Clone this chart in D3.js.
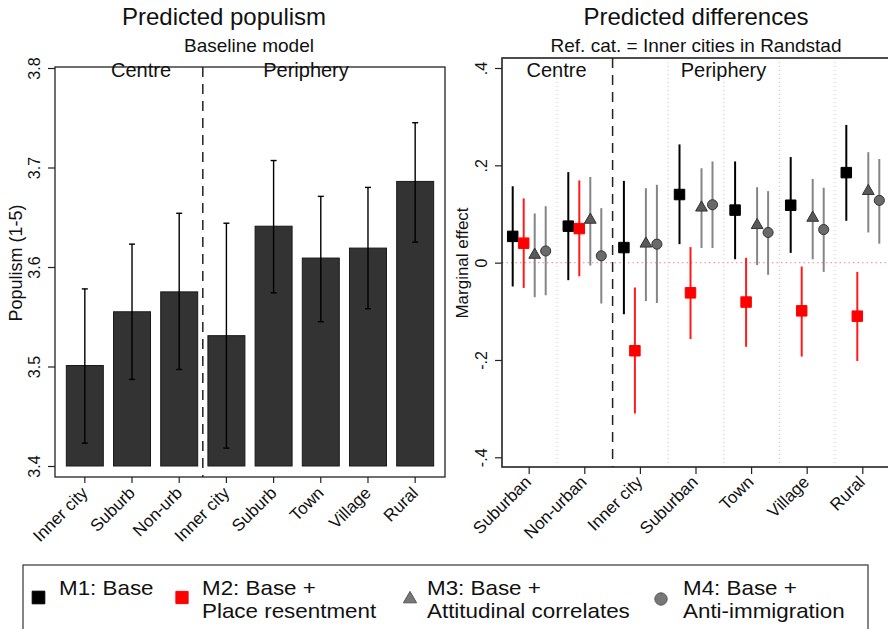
<!DOCTYPE html>
<html>
<head>
  <meta charset="utf-8">
  <script src="https://cdnjs.cloudflare.com/ajax/libs/d3/7.8.5/d3.min.js"></script>
  <title>populism</title>
  <style>
    body { margin: 0; background: #fff; }
    text { font-family: "Liberation Sans", Arial, sans-serif; fill: #111; }
  </style>
</head>
<body>
<script>
// left panel: predicted populism, baseline model
var leftCats = ["Inner city", "Suburb", "Non-urb", "Inner city", "Suburb", "Town", "Village", "Rural"];
var popMean = [3.501, 3.555, 3.575, 3.531, 3.641, 3.609, 3.619, 3.686];
var popLo   = [3.423, 3.487, 3.497, 3.418, 3.574, 3.545, 3.558, 3.625];
var popHi   = [3.578, 3.623, 3.654, 3.644, 3.707, 3.671, 3.680, 3.745];
var leftTicks = [3.4, 3.5, 3.6, 3.7, 3.8];
var leftTickLabels = ["3.4", "3.5", "3.6", "3.7", "3.8"];

// right panel: marginal effects vs inner cities in Randstad
var diffCats = ["Suburban", "Non-urban", "Inner city", "Suburban", "Town", "Village", "Rural"];
var m1Est = [0.054, 0.075, 0.031, 0.140, 0.108, 0.118, 0.185];
var m1Lo  = [-0.049, -0.036, -0.106, 0.038, 0.007, 0.020, 0.086];
var m1Hi  = [0.157, 0.186, 0.168, 0.243, 0.208, 0.217, 0.283];
var m2Est = [0.040, 0.070, -0.181, -0.062, -0.081, -0.099, -0.110];
var m2Lo  = [-0.052, -0.028, -0.310, -0.157, -0.173, -0.193, -0.202];
var m2Hi  = [0.132, 0.169, -0.051, 0.032, 0.010, -0.008, -0.019];
var m3Est = [0.016, 0.088, 0.039, 0.113, 0.077, 0.092, 0.147];
var m3Lo  = [-0.071, -0.006, -0.079, 0.030, -0.005, 0.007, 0.062];
var m3Hi  = [0.101, 0.176, 0.153, 0.194, 0.155, 0.172, 0.227];
var m4Est = [0.024, 0.014, 0.038, 0.119, 0.062, 0.068, 0.128];
var m4Lo  = [-0.067, -0.084, -0.083, 0.030, -0.025, -0.019, 0.039];
var m4Hi  = [0.116, 0.112, 0.160, 0.208, 0.147, 0.154, 0.213];
var rightTicks = [-0.4, -0.2, 0, 0.2, 0.4];
var rightTickLabels = ["-.4", "-.2", "0", ".2", ".4"];

var groupLabels = ["Centre", "Periphery"];
var legendLine1 = ["M1: Base", "M2: Base +", "M3: Base +", "M4: Base +"];
var legendLine2 = ["", "Place resentment", "Attitudinal correlates", "Anti-immigration"];

var w = 888, h = 629;
var svg = d3.select("body").append("svg").attr("width", w).attr("height", h);

// ---------- left panel ----------
var L = {x0: 55, x1: 445, y0: 67, y1: 477};
var xL = d3.scaleBand().domain(d3.range(leftCats.length)).range([L.x0, L.x1])
  .paddingInner(0.216).paddingOuter(0.24);
var yL = d3.scaleLinear().domain([3.4, 3.8]).range([466, 68]);

svg.append("text").attr("x", 224).attr("y", 25).attr("text-anchor", "middle")
  .attr("font-size", 24).text("Predicted populism");
svg.append("text").attr("x", 249).attr("y", 52).attr("text-anchor", "middle")
  .attr("font-size", 19).text("Baseline model");

svg.append("rect").attr("x", L.x0).attr("y", L.y0).attr("width", L.x1 - L.x0).attr("height", L.y1 - L.y0)
  .attr("fill", "none").attr("stroke", "#222").attr("stroke-width", 1.3);

svg.selectAll("rect.bar").data(popMean).enter().append("rect").attr("class", "bar")
  .attr("x", function(d, i) { return xL(i); })
  .attr("width", xL.bandwidth())
  .attr("y", function(d) { return yL(d); })
  .attr("height", function(d) { return yL(3.4) - yL(d); })
  .attr("fill", "#333").attr("stroke", "#1a1a1a").attr("stroke-width", 1);

var eb = svg.append("g").attr("stroke", "#000").attr("stroke-width", 1.4);
popMean.forEach(function(d, i) {
  var cx = xL(i) + xL.bandwidth() / 2;
  eb.append("line").attr("x1", cx).attr("x2", cx).attr("y1", yL(popHi[i])).attr("y2", yL(popLo[i]));
  eb.append("line").attr("x1", cx - 3).attr("x2", cx + 3).attr("y1", yL(popHi[i])).attr("y2", yL(popHi[i]));
  eb.append("line").attr("x1", cx - 3).attr("x2", cx + 3).attr("y1", yL(popLo[i])).attr("y2", yL(popLo[i]));
});

var splitL = (xL(2) + xL.bandwidth() / 2 + xL(3) + xL.bandwidth() / 2) / 2;
svg.append("line").attr("x1", splitL).attr("x2", splitL).attr("y1", L.y0).attr("y2", L.y1)
  .attr("stroke", "#222").attr("stroke-width", 1.5).attr("stroke-dasharray", "10,7");

svg.append("text").attr("x", 141).attr("y", 77).attr("text-anchor", "middle").attr("font-size", 20).text(groupLabels[0]);
svg.append("text").attr("x", 306).attr("y", 77).attr("text-anchor", "middle").attr("font-size", 20).text(groupLabels[1]);

var axL = svg.append("g").attr("transform", "translate(" + L.x0 + ",0)")
  .call(d3.axisLeft(yL).tickValues(leftTicks).tickSize(7)
    .tickFormat(function(d, i) { return leftTickLabels[i]; }));
axL.select(".domain").remove();
axL.selectAll("line").attr("stroke", "#222").attr("stroke-width", 1.2);
axL.selectAll("text").attr("transform", "rotate(-90)").attr("x", 0).attr("y", -15)
  .attr("dy", 0).attr("text-anchor", "middle").attr("font-size", 16).attr("font-family", null);

svg.append("text").attr("transform", "translate(22,263) rotate(-90)").attr("text-anchor", "middle")
  .attr("font-size", 18).text("Populism (1-5)");

var axLB = svg.append("g").attr("transform", "translate(0," + L.y1 + ")")
  .call(d3.axisBottom(xL).tickSize(6).tickFormat(function(i) { return leftCats[i]; }));
axLB.select(".domain").remove();
axLB.selectAll("line").attr("stroke", "#222").attr("stroke-width", 1.2);
axLB.selectAll("text").attr("y", 0).attr("dy", 0).attr("font-size", 17).attr("font-family", null)
  .attr("text-anchor", "end").attr("transform", "translate(4,17) rotate(-45)");

// ---------- right panel ----------
var R = {x0: 502, x1: 900, y0: 58, y1: 467};
var xR = d3.scaleBand().domain(d3.range(diffCats.length)).range([501.4, 890.6]).padding(0);
var yR = d3.scaleLinear().domain([-0.4, 0.4]).range([457.3, 68]);
var off = d3.scalePoint().domain([0, 1, 2, 3]).range([-16.5, 16.5]);

svg.append("text").attr("x", 696).attr("y", 25).attr("text-anchor", "middle")
  .attr("font-size", 24).text("Predicted differences");
svg.append("text").attr("x", 696).attr("y", 52).attr("text-anchor", "middle")
  .attr("font-size", 19).text("Ref. cat. = Inner cities in Randstad");

// dotted separators between categories
var seps = d3.range(1, diffCats.length + 1).filter(function(i) { return i !== 2; });
svg.selectAll("line.sep").data(seps).enter().append("line").attr("class", "sep")
  .attr("x1", function(i) { return xR(0) + i * xR.step(); })
  .attr("x2", function(i) { return xR(0) + i * xR.step(); })
  .attr("y1", R.y0).attr("y2", R.y1)
  .attr("stroke", "#c8c8c8").attr("stroke-width", 1).attr("stroke-dasharray", "1,3");

svg.append("line").attr("x1", R.x0).attr("x2", R.x1).attr("y1", yR(0)).attr("y2", yR(0))
  .attr("stroke", "#f4a0a0").attr("stroke-width", 1.2).attr("stroke-dasharray", "1.5,3");

var splitR = xR(2);
svg.append("line").attr("x1", splitR).attr("x2", splitR).attr("y1", R.y0).attr("y2", R.y1)
  .attr("stroke", "#222").attr("stroke-width", 1.5).attr("stroke-dasharray", "10,7");

var models = [
  {est: m1Est, lo: m1Lo, hi: m1Hi, line: "#000", fill: "#000", stroke: "#000", sym: d3.symbolSquare, size: 110},
  {est: m2Est, lo: m2Lo, hi: m2Hi, line: "#ff1a1a", fill: "#ff0000", stroke: "#ff0000", sym: d3.symbolSquare, size: 110},
  {est: m3Est, lo: m3Lo, hi: m3Hi, line: "#858585", fill: "#5a5a5a", stroke: "#333", sym: d3.symbolTriangle, size: 60},
  {est: m4Est, lo: m4Lo, hi: m4Hi, line: "#858585", fill: "#6a6a6a", stroke: "#333", sym: d3.symbolCircle, size: 80}
];

models.forEach(function(m, k) {
  var g = svg.append("g");
  g.selectAll("line").data(m.est).enter().append("line")
    .attr("x1", function(d, i) { return xR(i) + xR.bandwidth() / 2 + off(k); })
    .attr("x2", function(d, i) { return xR(i) + xR.bandwidth() / 2 + off(k); })
    .attr("y1", function(d, i) { return yR(m.hi[i]); })
    .attr("y2", function(d, i) { return yR(m.lo[i]); })
    .attr("stroke", m.line).attr("stroke-width", 2);
  g.selectAll("path").data(m.est).enter().append("path")
    .attr("d", d3.symbol().type(m.sym).size(m.size))
    .attr("transform", function(d, i) {
      return "translate(" + (xR(i) + xR.bandwidth() / 2 + off(k)) + "," + yR(d) + ")";
    })
    .attr("fill", m.fill).attr("stroke", m.stroke).attr("stroke-width", 1);
});

svg.append("rect").attr("x", R.x0).attr("y", R.y0).attr("width", R.x1 - R.x0).attr("height", R.y1 - R.y0)
  .attr("fill", "none").attr("stroke", "#222").attr("stroke-width", 1.6);

svg.append("text").attr("x", 556.5).attr("y", 77).attr("text-anchor", "middle").attr("font-size", 20).text(groupLabels[0]);
svg.append("text").attr("x", 723.5).attr("y", 77).attr("text-anchor", "middle").attr("font-size", 20).text(groupLabels[1]);

var axR = svg.append("g").attr("transform", "translate(" + R.x0 + ",0)")
  .call(d3.axisLeft(yR).tickValues(rightTicks).tickSize(7)
    .tickFormat(function(d, i) { return rightTickLabels[i]; }));
axR.select(".domain").remove();
axR.selectAll("line").attr("stroke", "#222").attr("stroke-width", 1.2);
axR.selectAll("text").attr("transform", "rotate(-90)").attr("x", 0).attr("y", -15)
  .attr("dy", 0).attr("text-anchor", "middle").attr("font-size", 16).attr("font-family", null);

svg.append("text").attr("transform", "translate(468,263) rotate(-90)").attr("text-anchor", "middle")
  .attr("font-size", 17).text("Marginal effect");

var axRB = svg.append("g").attr("transform", "translate(0," + R.y1 + ")")
  .call(d3.axisBottom(xR).tickSize(7).tickFormat(function(i) { return diffCats[i]; }));
axRB.select(".domain").remove();
axRB.selectAll("line").attr("stroke", "#222").attr("stroke-width", 1.2);
axRB.selectAll("text").attr("y", 0).attr("dy", 0).attr("font-size", 17).attr("font-family", null)
  .attr("text-anchor", "end").attr("transform", "translate(3,16) rotate(-45)");

// ---------- legend ----------
svg.append("rect").attr("x", 23).attr("y", 565).attr("width", 845).attr("height", 90)
  .attr("fill", "#fff").attr("stroke", "#444").attr("stroke-width", 1.3);

var legX = [38.5, 182, 410, 661];
var legTextX = [59, 202, 427, 683];
var legSize = [160, 150, 75, 120];
var lg = svg.append("g");
models.forEach(function(m, k) {
  lg.append("path").attr("d", d3.symbol().type(m.sym).size(legSize[k]))
    .attr("transform", "translate(" + legX[k] + "," + (k < 2 ? 597.5 : 599) + ")")
    .attr("fill", k < 2 ? m.fill : "#777").attr("stroke", k < 2 ? m.stroke : "#555");
  lg.append("text").attr("transform", "translate(" + legTextX[k] + ",595) scale(1.12,1)")
    .attr("font-size", 20).text(legendLine1[k]);
  lg.append("text").attr("transform", "translate(" + legTextX[k] + ",618) scale(1.12,1)")
    .attr("font-size", 20).text(legendLine2[k]);
});
</script>
</body>
</html>
